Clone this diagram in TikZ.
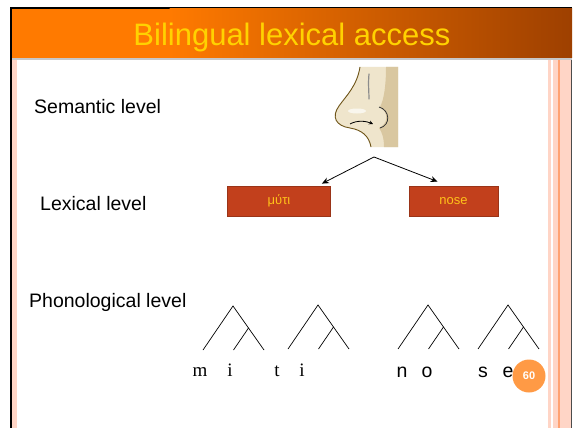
\documentclass[tikz,border=0pt]{standalone}
\usepackage{fontspec}
\setmainfont{Liberation Sans}
\newfontfamily\serifface{Liberation Serif}
\usetikzlibrary{arrows.meta,calc}

\definecolor{titleorange}{HTML}{FF7A00}
\definecolor{titlebrown}{HTML}{9E4000}
\definecolor{titleyellow}{HTML}{FFD200}
\definecolor{stripPink}{HTML}{FFD5C6}
\definecolor{stripOrange}{HTML}{FFA272}
\definecolor{boxfill}{HTML}{C2401C}
\definecolor{boxline}{HTML}{9A3418}
\definecolor{boxtext}{HTML}{FFC21A}
\definecolor{badge}{HTML}{FF9A45}
\definecolor{skin}{HTML}{EFE5CC}
\definecolor{skinshade}{HTML}{D9C7A0}
\definecolor{skinline}{HTML}{6E5418}

\begin{document}
\begin{tikzpicture}[x=1pt,y=-1pt,
  levellabel/.style={font=\fontsize{19.5}{23}\selectfont, anchor=base west, inner sep=0pt},
  wordbox/.style={draw=boxline, fill=boxfill, line width=0.8pt, minimum height=30pt,
                  text=boxtext, font=\fontsize{13}{16}\selectfont, inner sep=0pt},
  seg/.style={font=\fontsize{19.5}{23}\selectfont, anchor=base, inner sep=0pt},
  serifseg/.style={font=\fontsize{19}{23}\selectfont\serifface, anchor=base, inner sep=0pt},
  branch/.style={line width=0.7pt, black},
  link/.style={line width=0.8pt, -{Stealth[length=7pt,width=6pt]}}]

\useasboundingbox (0,0) rectangle (573,428);
\fill[white] (0,0) rectangle (573,428);

% slide frame and side strips
\fill[stripPink] (12,58) rectangle (16.5,428);
\fill[stripPink] (548,58) rectangle (550.5,428);
\fill[stripPink] (552.5,58) rectangle (571,428);
\fill[stripOrange] (557.8,58) rectangle (559.6,428);
\draw[black!70, line width=0.8pt] (571.6,58) -- (571.6,428);
\fill[black] (10,7) rectangle (12,428);
\fill[black] (10,7) rectangle (572,9);

% title bar
\fill[titleorange] (12,9) rectangle (170,58);
\shade[left color=titleorange, right color=titlebrown] (169.5,9) rectangle (572,58);
\fill[black!22] (12,58) rectangle (572,60);
\node[text=titleyellow, font=\fontsize{31}{35}\selectfont, anchor=base, inner sep=0pt]
  (title) at (292,46) {Bilingual lexical access};

% level labels
\node[levellabel] (sem) at (34,113) {Semantic level};
\node[levellabel] (lex) at (40,210) {Lexical level};
\node[levellabel] (pho) at (29,307) {Phonological level};

% nose
\begin{scope}
  \fill[skin] (360,67) .. controls (357,86) and (346,96) .. (339,106)
    .. controls (331,117) and (336,126) .. (350,128)
    .. controls (362,130) and (369,136) .. (371,147)
    -- (398,147) -- (398,67) -- cycle;
  \fill[skinshade] (386,67) -- (398,67) -- (398,147) -- (384,147)
    .. controls (384,138) and (382,132) .. (379,128)
    .. controls (387,125) and (390,113) .. (380,107)
    .. controls (384,100) and (386,85) .. (386,67) -- cycle;
  \draw[skinline, line width=0.9pt] (360,67) .. controls (357,86) and (346,96) .. (339,106)
    .. controls (331,117) and (336,126) .. (350,128)
    .. controls (362,130) and (369,136) .. (371,147);
  \draw[black!45, line width=1.2pt, line cap=round] (369,74) .. controls (368,84) and (369,92) .. (369,99);
  \fill[white!65!skin] (357,111) ellipse (9pt and 2.5pt);
  \draw[black!80, line width=0.8pt] (379,107) .. controls (390,110) and (391,125) .. (380,128);
  \draw[black, line width=0.8pt, -{Stealth[length=4pt,width=4pt]}]
    (350,124) .. controls (357,120) and (366,121) .. (373,124);
  \coordinate (apex) at (374,157);
\end{scope}

% lexical entries
\node[wordbox, minimum width=103pt] (muti) at (279,201) {μύτι};
\node[wordbox, minimum width=89pt] (nose) at (453.5,201) {nose};
\coordinate (tipL) at ($(muti.north east)+(-9,-2)$);
\coordinate (tipR) at ($(nose.north west)+(29,-4)$);
\draw[link] (apex) -- (tipL);
\draw[link] (apex) -- (tipR);

% syllable trees
\foreach \k/\ax/\ay in {1/233/306, 2/318/305, 3/428/305, 4/508/305} {
  \coordinate (top\k) at (\ax,\ay);
  \coordinate (left\k) at ($(top\k)+(-30,44)$);
  \coordinate (right\k) at ($(top\k)+(31,44)$);
  \coordinate (mid\k) at ($(top\k)!0.5!(right\k)$);
  \coordinate (inner\k) at ($(top\k)+(0.5,44)$);
  \draw[branch] (left\k) -- (top\k) -- (right\k);
  \draw[branch] (mid\k) -- (inner\k);
}

% segments
\node[serifseg] (s1) at (200,376) {m};
\node[serifseg] (s2) at (230,376) {i};
\node[serifseg] (s3) at (277,376) {t};
\node[serifseg] (s4) at (302,376) {i};
\node[seg] (s5) at (402,377) {n};
\node[seg] (s6) at (427,377) {o};
\node[seg] (s7) at (483,377) {s};
\node[seg] (s8) at (508,377) {e};

% slide number
\node[circle, fill=badge, minimum size=33pt, inner sep=0pt, text=white,
      font=\fontsize{11}{13}\selectfont\bfseries] (pagenum) at (529,376) {60};
\end{tikzpicture}
\end{document}
